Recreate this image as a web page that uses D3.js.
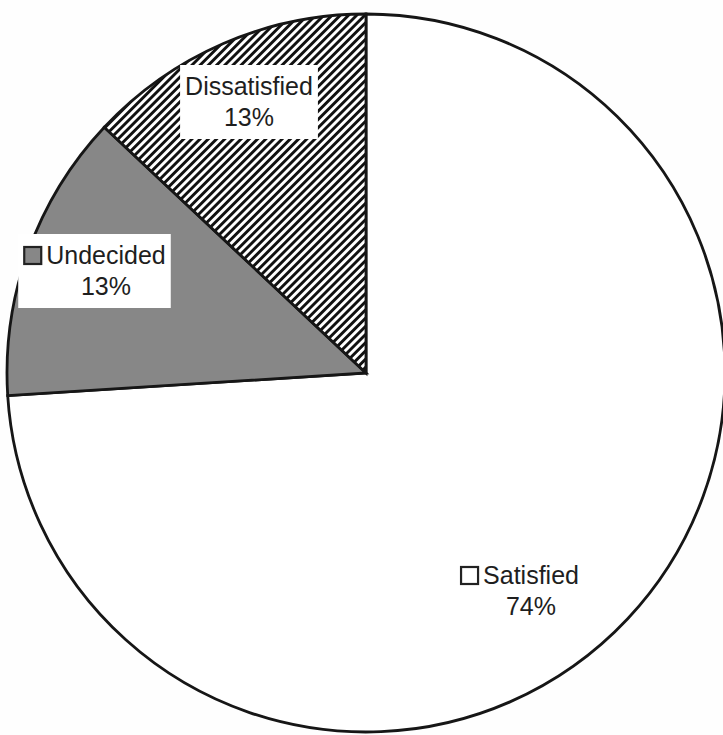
<!DOCTYPE html>
<html>
<head>
<meta charset="utf-8">
<script src="https://cdn.jsdelivr.net/npm/d3@7"></script>
<style>
  body { margin: 0; background: #fefefe; }
  svg { display: block; }
</style>
</head>
<body>
<div id="chart"></div>
<script>
// data
var categories = ["Satisfied", "Undecided", "Dissatisfied"];
var percents = [74, 13, 13];
var pctLabels = ["74%", "13%", "13%"];

var svgWidth = 723;
var svgHeight = 735;
var cx = 366, cy = 373, radius = 359;

// label layout (centre x of text, baseline of first line, square or not)
var labelLayout = {
    "Satisfied":    { x: 531, y: 584, square: true,  fill: "#ffffff" },
    "Undecided":    { x: 106, y: 264, square: true,  fill: "#878787" },
    "Dissatisfied": { x: 249, y: 95,  square: false }
};

var svg = d3.select("#chart")
    .append("svg")
    .attr("width", svgWidth)
    .attr("height", svgHeight);

svg.append("rect")
    .attr("width", svgWidth)
    .attr("height", svgHeight)
    .attr("fill", "#fefefe");

var defs = svg.append("defs");
var hatch = defs.append("pattern")
    .attr("id", "hatch")
    .attr("patternUnits", "userSpaceOnUse")
    .attr("width", 5.8)
    .attr("height", 5.8)
    .attr("patternTransform", "rotate(45)");
hatch.append("rect").attr("width", 5.8).attr("height", 5.8).attr("fill", "#fff");
hatch.append("rect").attr("width", 2.9).attr("height", 5.8).attr("fill", "#111");

var fills = {
    "Satisfied": "#ffffff",
    "Undecided": "#878787",
    "Dissatisfied": "url(#hatch)"
};

var pie = d3.pie().sort(null).value(d => d.value);
var arc = d3.arc().innerRadius(0).outerRadius(radius);

var data = categories.map((c, i) => ({ name: c, value: percents[i], label: pctLabels[i] }));

var chartGroup = svg.append("g")
    .attr("transform", `translate(${cx}, ${cy})`);

chartGroup.selectAll("path")
    .data(pie(data))
    .enter()
    .append("path")
    .attr("d", arc)
    .attr("fill", d => fills[d.data.name])
    .attr("stroke", "#161616")
    .attr("stroke-width", 2.8)
    .attr("stroke-linejoin", "miter");

// labels
data.forEach(function (d) {
    var lay = labelLayout[d.name];
    var g = svg.append("g");
    var box = g.append("rect").attr("fill", "#fff");
    var t1 = g.append("text")
        .attr("x", lay.x)
        .attr("y", lay.y)
        .attr("text-anchor", "middle")
        .attr("font-family", "'Liberation Sans', Arial, sans-serif")
        .attr("font-size", "25px")
        .attr("fill", "#1e1e1e")
        .text(d.name);
    var t2 = g.append("text")
        .attr("x", lay.x)
        .attr("y", lay.y + 31)
        .attr("text-anchor", "middle")
        .attr("font-family", "'Liberation Sans', Arial, sans-serif")
        .attr("font-size", "25px")
        .attr("fill", "#1e1e1e")
        .text(d.label);

    var b1 = t1.node().getBBox();
    var b2 = t2.node().getBBox();
    var left = b1.x;
    if (lay.square) {
        var sx = b1.x - 22;
        g.append("rect")
            .attr("x", sx)
            .attr("y", lay.y - 17)
            .attr("width", 17)
            .attr("height", 17)
            .attr("fill", lay.fill)
            .attr("stroke", "#222")
            .attr("stroke-width", 2.2);
        left = sx - 1;
    }
    var right = Math.max(b1.x + b1.width, b2.x + b2.width);
    box.attr("x", left - 5)
        .attr("y", b1.y - 7)
        .attr("width", right - left + 10)
        .attr("height", b2.y + b2.height - b1.y + 15);
});
</script>
</body>
</html>
